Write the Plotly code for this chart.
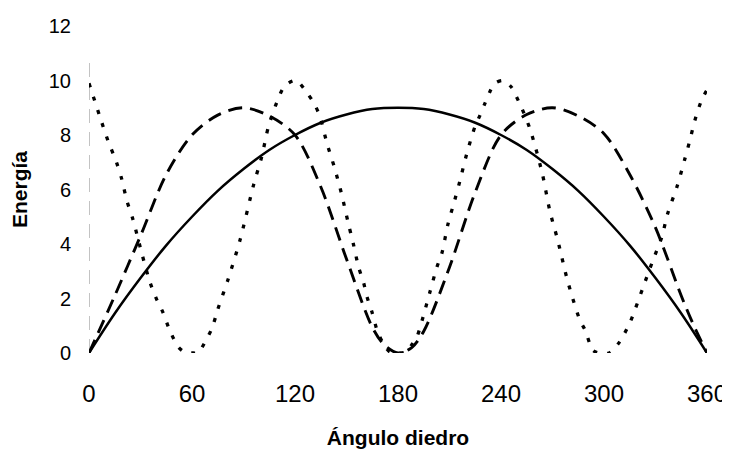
import plotly.graph_objects as go

# --- data ---
solid_x = [0, 15, 30, 45, 60, 75, 90, 105, 120, 135, 150, 165, 180,
           195, 210, 225, 240, 255, 270, 285, 300, 315, 330, 345, 360]
solid_y = [0, 1.45, 2.75, 3.95, 5.0, 5.95, 6.75, 7.45, 8.0, 8.45, 8.75, 8.95, 9.0,
           8.95, 8.75, 8.45, 8.0, 7.45, 6.75, 5.95, 5.0, 3.95, 2.75, 1.45, 0]

dash_x = [0, 15, 30, 45, 60, 75, 90, 105, 120, 135, 150, 165, 172, 180,
          188, 195, 210, 225, 240, 255, 270, 285, 300, 315, 330, 345, 352, 360]
dash_y = [0, 2.1, 4.3, 6.55, 8.0, 8.73, 9.0, 8.7, 8.0, 6.1, 3.45, 0.95, 0.3, 0,
          0.2, 0.8, 3.15, 5.9, 8.0, 8.75, 9.0, 8.7, 8.05, 6.55, 4.6, 2.1, 1.05, 0]

dot_x = [0, 6.4, 11, 16, 19, 22, 25.6, 31, 35.5, 39.6, 43, 47, 52, 56, 60, 64, 66,
         71.6, 75, 81, 88, 96, 100.6, 104.5, 109.4, 114, 120.5, 127, 131.6, 134.6,
         138.6, 143, 147, 151, 154, 157, 160, 162, 165, 168, 171, 175, 180,
         185, 188, 191, 194.6, 198.6, 202.7, 205.6, 209, 213, 216, 220, 224.8,
         227.8, 230.7, 233.6, 236.5, 241, 246, 249, 252, 257, 264, 268.5, 273,
         279, 286, 289, 293.5, 297, 303, 309, 315, 318, 322.7, 328.5, 333.7, 337,
         342.5, 347, 350, 353, 357, 360]
dot_y = [9.9, 8.66, 7.8, 7.0, 6.4, 5.6, 4.9, 3.6, 2.6, 1.94, 1.5, 0.84, 0.22, 0.02,
         0, 0.02, 0.22, 0.9, 1.6, 2.7, 4.15, 6.2, 7.2, 8.3, 9.2, 9.8, 10, 9.55, 9.1,
         8.66, 7.7, 6.8, 5.87, 4.77, 4.0, 3.16, 2.57, 2.05, 1.47, 0.8, 0.4, 0.05, 0,
         0.05, 0.3, 0.59, 1.32, 2.24, 3.16, 3.67, 4.7, 5.6, 6.3, 7.3, 8.3,
         8.73, 9.17, 9.6, 9.9, 10, 9.76, 9.4, 9.0, 8.2, 6.6, 5.2, 4.15,
         2.6, 1.2, 0.84, 0.1, 0, 0, 0.4, 1.1, 1.58, 2.4, 3.4, 4.26, 5.1,
         6.1, 7.1, 7.8, 8.55, 9.3, 9.65]

x_ticks = [0, 60, 120, 180, 240, 300, 360]
y_ticks = [0, 2, 4, 6, 8, 10, 12]

FONT = "Liberation Sans, Arial, sans-serif"

fig = go.Figure()
fig.add_trace(go.Scatter(x=solid_x, y=solid_y, mode="lines", cliponaxis=False,
                         line=dict(color="black", width=2.5, shape="spline")))
fig.add_trace(go.Scatter(x=dash_x, y=dash_y, mode="lines", cliponaxis=False,
                         line=dict(color="black", width=2.9, shape="spline",
                                   smoothing=0.9, dash="14px,8px")))
fig.add_trace(go.Scatter(x=dot_x, y=dot_y, mode="lines", cliponaxis=False,
                         line=dict(color="black", width=3.3, shape="spline",
                                   smoothing=0.8, dash="4px,10px")))

# faint, broken vertical axis line as in the scanned original
fig.add_shape(type="line", xref="x", yref="y", x0=0, x1=0, y0=0, y1=10.8,
              line=dict(color="#888888", width=1, dash="14px,9px"), layer="below")

# the page body adds an 8px offset, so the figure is 8px smaller than the window
fig.update_layout(
    width=722, height=441,
    margin=dict(l=81, r=23, t=18, b=96),
    paper_bgcolor="white", plot_bgcolor="white",
    showlegend=False,
    font=dict(family=FONT, color="black"),
    xaxis=dict(range=[0, 360], tickvals=x_ticks, ticktext=[str(v) for v in x_ticks],
               showgrid=False, zeroline=False, showline=False, ticks="",
               automargin=False,
               tickfont=dict(size=24, family=FONT), ticklabelstandoff=24,
               title=dict(text="<b>Ángulo diedro</b>", font=dict(size=21, family=FONT),
                          standoff=24)),
    yaxis=dict(range=[0, 12], tickvals=y_ticks, ticktext=[str(v) for v in y_ticks],
               showgrid=False, zeroline=False, showline=False, ticks="",
               automargin=False,
               tickfont=dict(size=20, family=FONT), ticklabelstandoff=17,
               title=dict(text="<b>Energía</b>", font=dict(size=21, family=FONT),
                          standoff=17)),
)

fig.write_html("out.html")
